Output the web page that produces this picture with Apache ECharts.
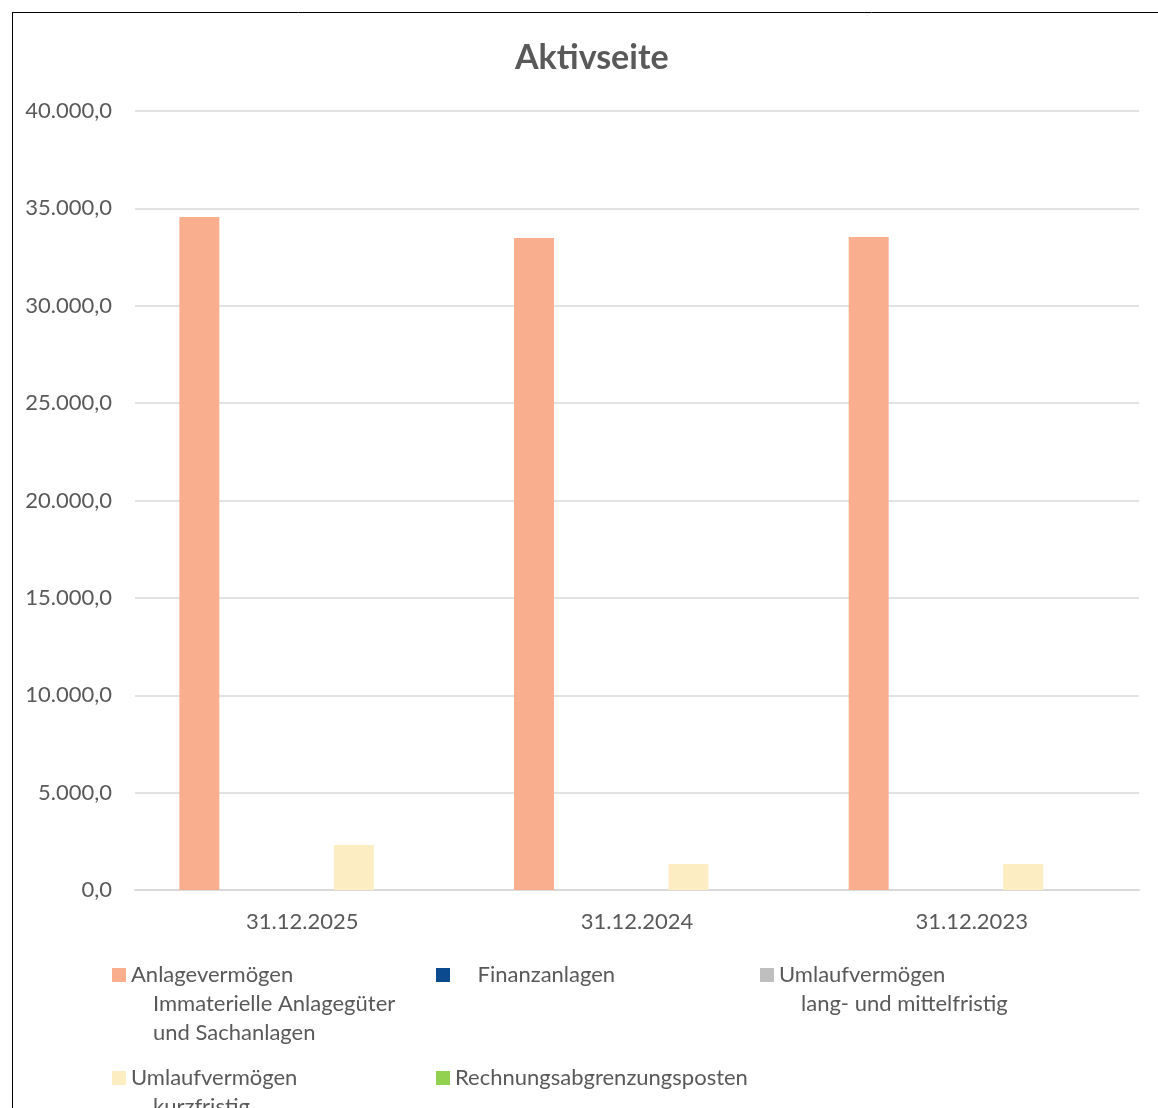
<!DOCTYPE html>
<html>
<head>
<meta charset="utf-8">
<script src="https://cdn.jsdelivr.net/npm/echarts@6/dist/echarts.min.js"></script>
<style>
  html, body { margin: 0; padding: 0; background: #fff; }
  #chart { width: 1158px; height: 1108px; }
</style>
</head>
<body>
<div id="chart"></div>
<script>
// Daten
var categories = ['31.12.2025', '31.12.2024', '31.12.2023'];
var seriesNames = [
    'Anlagevermögen Immaterielle Anlagegüter und Sachanlagen',
    'Finanzanlagen',
    'Umlaufvermögen lang- und mittelfristig',
    'Umlaufvermögen kurzfristig',
    'Rechnungsabgrenzungsposten'
];
var anlagevermoegen = [34560, 33480, 33530];
var finanzanlagen = [0, 0, 0];
var umlaufLangMittel = [0, 0, 0];
var umlaufKurz = [2310, 1335, 1335];
var rechnungsabgrenzung = [0, 0, 0];
var yTicks = [0, 5000, 10000, 15000, 20000, 25000, 30000, 35000, 40000];

var colors = ['#F9AF8E', '#0B4A8F', '#BFBFBF', '#FDEDC3', '#92D050'];
var textColor = '#595959';
var fontName = 'Lato';

var myChart = '';
var option = '';

// Zahlenformat 40.000,0
function fmt(v) {
    var s = Math.round(v).toString();
    s = s.replace(/\B(?=(\d{3})+(?!\d))/g, '.');
    return s + ',0';
}

function makeLegend(name, left, top, label) {
    return {
        data: [name],
        left: left,
        top: top,
        padding: 0,
        itemWidth: 14,
        itemHeight: 14,
        icon: 'rect',
        selectedMode: false,
        formatter: function () { return label; },
        textStyle: { color: textColor, fontFamily: fontName, fontSize: 22, lineHeight: 24 }
    };
}

function subLine(text, x, y) {
    return {
        type: 'text',
        left: x,
        top: y,
        style: { text: text, fill: textColor, font: '22px ' + fontName }
    };
}

window.onload = function () {
    myChart = echarts.init(document.getElementById('chart'));

    var dataSets = [anlagevermoegen, finanzanlagen, umlaufLangMittel, umlaufKurz, rechnungsabgrenzung];
    var series = dataSets.map(function (d, i) {
        return {
            name: seriesNames[i],
            type: 'bar',
            data: d,
            itemStyle: { color: colors[i] },
            barGap: '28.75%',
            barCategoryGap: '26.5%'
        };
    });

    option = {
        backgroundColor: '#fff',
        animation: false,
        title: {
            text: 'Aktivseite',
            left: 510,
            top: 36,
            textStyle: { color: textColor, fontFamily: fontName, fontSize: 34, fontWeight: 'bold' }
        },
        grid: { left: 135, right: 19, top: 111, bottom: 218 },
        legend: [
            makeLegend(seriesNames[0], 112, 963, 'Anlagevermögen'),
            makeLegend(seriesNames[1], 436, 963, '    Finanzanlagen'),
            makeLegend(seriesNames[2], 760, 963, 'Umlaufvermögen'),
            makeLegend(seriesNames[3], 112, 1066, 'Umlaufvermögen'),
            makeLegend(seriesNames[4], 436, 1066, 'Rechnungsabgrenzungsposten')
        ],
        graphic: [
            // Rahmen links und oben
            { type: 'line', shape: { x1: 12.5, y1: 12, x2: 12.5, y2: 1108 }, style: { stroke: '#000', lineWidth: 1 } },
            { type: 'line', shape: { x1: 12, y1: 12.5, x2: 1158, y2: 12.5 }, style: { stroke: '#000', lineWidth: 1 } },
            subLine('Immaterielle Anlagegüter', 153, 993),
            subLine('und Sachanlagen', 153, 1022),
            subLine('lang- und mittelfristig', 801, 993),
            subLine('kurzfristig', 153, 1096)
        ],
        xAxis: {
            type: 'category',
            data: categories,
            axisLine: { lineStyle: { color: '#D9D9D9', width: 2 } },
            axisTick: { show: false },
            axisLabel: { color: textColor, fontFamily: fontName, fontSize: 22, margin: 21 }
        },
        yAxis: {
            type: 'value',
            min: yTicks[0],
            max: yTicks[yTicks.length - 1],
            interval: yTicks[1] - yTicks[0],
            axisLine: { show: false },
            axisTick: { show: false },
            splitLine: { lineStyle: { color: '#D9D9D9', width: 1.5 } },
            axisLabel: { color: textColor, fontFamily: fontName, fontSize: 22, margin: 23, formatter: fmt }
        },
        series: series
    };

    myChart.setOption(option);
};
</script>
</body>
</html>
